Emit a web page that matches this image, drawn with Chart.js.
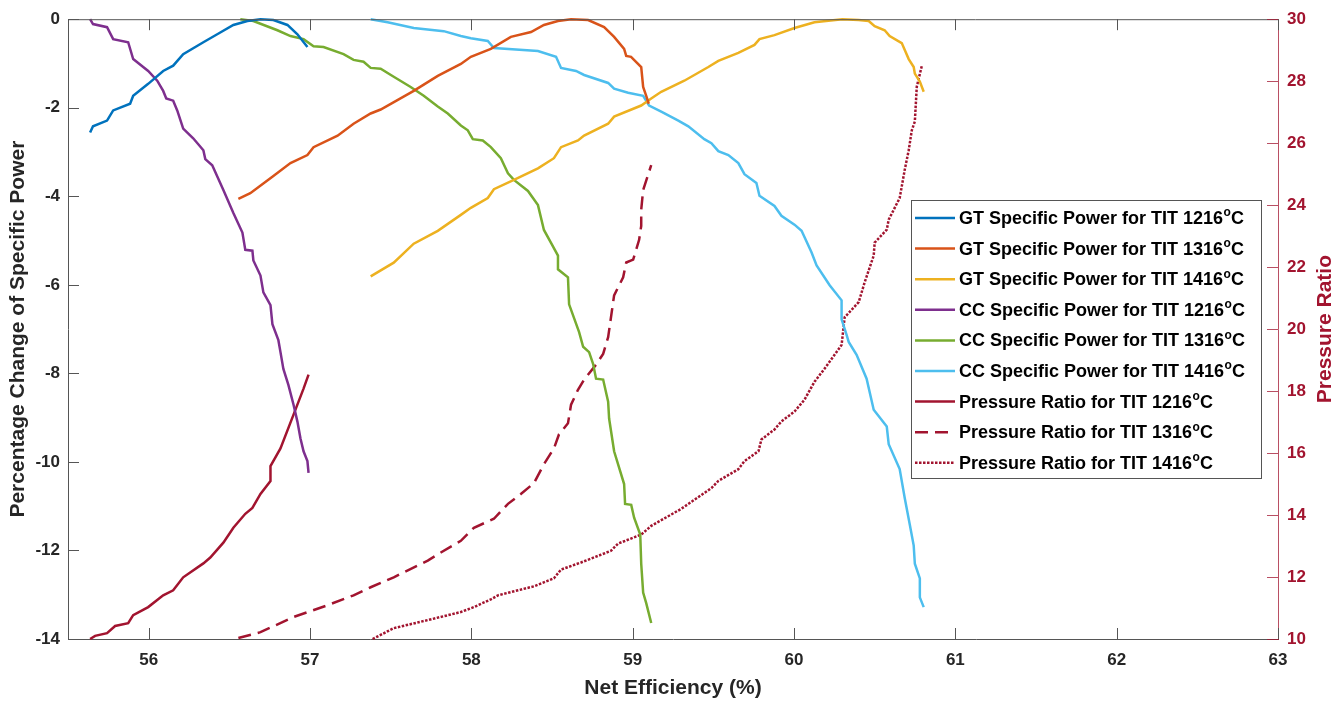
<!DOCTYPE html>
<html>
<head>
<meta charset="utf-8">
<script src="https://cdn.jsdelivr.net/npm/chart.js@4.4.1/dist/chart.umd.min.js"></script>
<style>
html,body{margin:0;padding:0;background:#fff;}
canvas{display:block;}
</style>
</head>
<body>
<canvas id="c" width="1344" height="704"></canvas>
<script>
// ---- Data ----
const xTicks = [56, 57, 58, 59, 60, 61, 62, 63];
const yLeftTicks = [-14, -12, -10, -8, -6, -4, -2, 0];
const yRightTicks = [10, 12, 14, 16, 18, 20, 22, 24, 26, 28, 30];

const seriesLabels = [
  'GT Specific Power for TIT 1216ᵒC',
  'GT Specific Power for TIT 1316ᵒC',
  'GT Specific Power for TIT 1416ᵒC',
  'CC Specific Power for TIT 1216ᵒC',
  'CC Specific Power for TIT 1316ᵒC',
  'CC Specific Power for TIT 1416ᵒC',
  'Pressure Ratio for TIT 1216ᵒC',
  'Pressure Ratio for TIT 1316ᵒC',
  'Pressure Ratio for TIT 1416ᵒC'
];

const gt1216X = [55.637,55.655,55.742,55.78,55.885,55.904,55.997,56.09,56.152,56.214,56.339,56.425,56.525,56.612,56.693,56.773,56.86,56.922,56.984];
const gt1216Y = [-2.56,-2.42,-2.29,-2.06,-1.91,-1.73,-1.46,-1.17,-1.05,-0.79,-0.52,-0.34,-0.13,-0.04,0,-0.02,-0.13,-0.34,-0.63];

const gt1316X = [56.556,56.63,56.773,56.879,56.984,57.022,57.171,57.27,57.376,57.438,57.643,57.792,57.935,57.997,58.121,58.245,58.37,58.45,58.537,58.618,58.724,58.823,58.885,58.947,58.96,58.99,59.053,59.065,59.084,59.10];
const gt1316Y = [-4.06,-3.93,-3.54,-3.25,-3.07,-2.89,-2.63,-2.36,-2.13,-2.04,-1.62,-1.28,-1.01,-0.85,-0.67,-0.40,-0.29,-0.13,-0.04,0,-0.02,-0.18,-0.40,-0.67,-0.83,-0.85,-1.08,-1.53,-1.73,-1.91];

const gt1416X = [57.376,57.519,57.643,57.792,57.935,57.997,58.102,58.14,58.264,58.413,58.512,58.556,58.661,58.699,58.848,58.885,59.053,59.115,59.177,59.32,59.469,59.531,59.655,59.755,59.786,59.879,60.003,60.127,60.3,60.4,60.463,60.5,60.562,60.593,60.668,60.711,60.742,60.749,60.78,60.804];
const gt1416Y = [-5.81,-5.50,-5.07,-4.78,-4.42,-4.26,-4.04,-3.84,-3.63,-3.37,-3.14,-2.89,-2.74,-2.63,-2.36,-2.20,-1.95,-1.79,-1.64,-1.39,-1.08,-0.94,-0.76,-0.58,-0.45,-0.36,-0.20,-0.07,0,-0.02,-0.04,-0.16,-0.25,-0.38,-0.54,-0.90,-1.08,-1.23,-1.41,-1.64];

const cc1216X = [55.637,55.655,55.742,55.78,55.873,55.904,55.997,56.053,56.09,56.109,56.152,56.177,56.214,56.276,56.339,56.351,56.394,56.463,56.525,56.581,56.599,56.643,56.649,56.693,56.711,56.755,56.767,56.804,56.817,56.835,56.866,56.898,56.922,56.941,56.96,56.984,56.991];
const cc1216Y = [0,-0.11,-0.18,-0.45,-0.52,-0.90,-1.17,-1.39,-1.62,-1.79,-1.84,-2.06,-2.47,-2.69,-2.96,-3.16,-3.30,-3.86,-4.38,-4.82,-5.21,-5.23,-5.45,-5.79,-6.17,-6.46,-6.89,-7.25,-7.52,-7.90,-8.26,-8.71,-9.09,-9.47,-9.76,-9.98,-10.25];

const cc1316X = [56.568,56.649,56.798,56.879,56.96,57.022,57.084,57.208,57.27,57.332,57.376,57.438,57.519,57.624,57.705,57.792,57.854,57.935,57.978,58.009,58.071,58.121,58.183,58.227,58.264,58.351,58.413,58.45,58.494,58.537,58.537,58.599,58.606,58.668,58.693,58.73,58.755,58.773,58.817,58.848,58.854,58.885,58.947,58.953,58.991,59.009,59.047,59.053,59.065,59.084,59.115];
const cc1316Y = [0,-0.04,-0.25,-0.38,-0.45,-0.61,-0.63,-0.79,-0.92,-0.96,-1.10,-1.12,-1.30,-1.53,-1.73,-1.97,-2.13,-2.40,-2.51,-2.71,-2.74,-2.89,-3.14,-3.48,-3.63,-3.88,-4.20,-4.76,-5.05,-5.34,-5.65,-5.83,-6.44,-7.07,-7.40,-7.52,-7.79,-8.12,-8.14,-8.64,-9.02,-9.76,-10.50,-10.95,-10.97,-11.26,-11.64,-12.30,-12.95,-13.19,-13.64];

const cc1416X = [57.376,57.481,57.643,57.829,57.935,57.997,58.102,58.14,58.413,58.525,58.556,58.649,58.699,58.848,58.885,58.972,59.065,59.102,59.177,59.283,59.345,59.444,59.488,59.531,59.593,59.655,59.693,59.767,59.786,59.879,59.922,60.003,60.047,60.109,60.14,60.221,60.295,60.295,60.326,60.339,60.388,60.45,60.494,60.575,60.587,60.655,60.686,60.717,60.742,60.749,60.78,60.78,60.804];
const cc1416Y = [0,-0.07,-0.20,-0.27,-0.38,-0.43,-0.49,-0.65,-0.72,-0.85,-1.10,-1.17,-1.26,-1.44,-1.57,-1.66,-1.73,-1.95,-2.09,-2.29,-2.42,-2.71,-2.80,-2.98,-3.07,-3.25,-3.50,-3.70,-3.99,-4.22,-4.44,-4.64,-4.78,-5.27,-5.56,-6.01,-6.35,-6.78,-7.13,-7.29,-7.58,-8.12,-8.82,-9.20,-9.60,-10.16,-10.81,-11.40,-11.89,-12.30,-12.63,-13.06,-13.28];

const pr1216X = [55.637,55.668,55.742,55.792,55.873,55.904,55.997,56.09,56.152,56.214,56.339,56.382,56.463,56.525,56.599,56.643,56.693,56.755,56.755,56.817,56.898,56.96,56.991];
const pr1216Y = [10.0,10.10,10.19,10.42,10.51,10.77,11.03,11.41,11.57,11.99,12.44,12.63,13.11,13.59,14.04,14.23,14.68,15.10,15.58,16.15,17.24,18.08,18.53];

const pr1316X = [56.556,56.693,56.898,57.109,57.27,57.376,57.519,57.73,57.811,57.935,58.016,58.14,58.227,58.307,58.388,58.45,58.512,58.543,58.599,58.618,58.661,58.699,58.773,58.817,58.848,58.885,58.941,58.96,59.003,59.04,59.053,59.053,59.065,59.115];
const pr1316Y = [10.03,10.22,10.71,11.09,11.41,11.67,11.99,12.53,12.79,13.17,13.59,13.88,14.36,14.68,15.03,15.64,16.15,16.60,16.96,17.56,18.04,18.37,18.85,19.20,19.74,21.09,21.67,22.15,22.24,22.88,23.33,23.85,24.49,25.29];

const pr1416X = [57.388,57.519,57.73,57.935,58.016,58.121,58.165,58.388,58.512,58.556,58.68,58.804,58.866,58.91,59.053,59.115,59.301,59.488,59.531,59.655,59.693,59.78,59.798,59.879,59.922,60.003,60.065,60.127,60.189,60.295,60.314,60.401,60.438,60.494,60.5,60.575,60.587,60.655,60.686,60.711,60.73,60.749,60.761,60.792];
const pr1416Y = [10.0,10.35,10.61,10.87,11.03,11.28,11.41,11.70,11.96,12.24,12.47,12.72,12.85,13.08,13.37,13.65,14.20,14.87,15.10,15.48,15.74,16.06,16.44,16.76,17.02,17.34,17.72,18.30,18.72,19.49,20.38,20.87,21.51,22.37,22.79,23.21,23.53,24.23,25.13,25.77,26.41,26.70,27.82,28.49];

// ---- Styles ----
const FONT = "'Liberation Sans', Arial, Helvetica, sans-serif";
const AX = '#262626';
const CRIMSON = '#A2142F';
const colors = ['#0072BD','#D95319','#EDB120','#7E2F8E','#77AC30','#4DBEEE',CRIMSON,CRIMSON,CRIMSON];
const dashes = [[],[],[],[],[],[],[],[13,7],[2.5,1.5]];
const xs = [gt1216X,gt1316X,gt1416X,cc1216X,cc1316X,cc1416X,pr1216X,pr1316X,pr1416X];
const ys = [gt1216Y,gt1316Y,gt1416Y,cc1216Y,cc1316Y,cc1416Y,pr1216Y,pr1316Y,pr1416Y];

function zip(a, b) {
  const n = Math.min(a.length, b.length);
  const out = [];
  for (let i = 0; i < n; i++) out.push({x: a[i], y: b[i]});
  return out;
}

const datasets = seriesLabels.map((lab, i) => ({
  label: lab,
  data: zip(xs[i], ys[i]),
  yAxisID: i < 6 ? 'y' : 'y1',
  borderColor: colors[i],
  backgroundColor: colors[i],
  borderWidth: 2.5,
  borderDash: dashes[i],
  pointRadius: 0,
  pointHoverRadius: 0,
  tension: 0,
  fill: false,
  clip: 3
}));

const TICK_LEN = 11;

const decorPlugin = {
  id: 'decor',
  afterDraw(chart) {
    const {ctx, chartArea: ca, scales} = chart;
    const {left, right, top, bottom} = ca;
    ctx.save();
    ctx.lineWidth = 1;
    // top box line
    ctx.strokeStyle = '#555';
    ctx.beginPath();
    ctx.moveTo(left, top + 0.5); ctx.lineTo(right, top + 0.5);
    ctx.stroke();
    // x ticks (bottom and top, inward)
    ctx.beginPath();
    scales.x.ticks.forEach(t => {
      const px = Math.round(scales.x.getPixelForValue(t.value)) + 0.5;
      ctx.moveTo(px, bottom); ctx.lineTo(px, bottom - TICK_LEN);
      ctx.moveTo(px, top); ctx.lineTo(px, top + TICK_LEN);
    });
    // left y ticks
    scales.y.ticks.forEach(t => {
      const py = Math.round(scales.y.getPixelForValue(t.value)) + 0.5;
      ctx.moveTo(left, py); ctx.lineTo(left + TICK_LEN, py);
    });
    ctx.stroke();
    // right y ticks (crimson)
    ctx.strokeStyle = 'rgba(162,20,47,0.75)';
    ctx.beginPath();
    scales.y1.ticks.forEach(t => {
      const py = Math.round(scales.y1.getPixelForValue(t.value)) + 0.5;
      ctx.moveTo(right, py); ctx.lineTo(right - TICK_LEN, py);
    });
    ctx.stroke();

    // right axis title (reads bottom-to-top)
    ctx.save();
    ctx.translate(1325, (top + bottom) / 2);
    ctx.rotate(-Math.PI / 2);
    ctx.fillStyle = CRIMSON;
    ctx.font = 'bold 21px ' + FONT;
    ctx.textAlign = 'center';
    ctx.textBaseline = 'middle';
    ctx.fillText(chart.options.scales.y1.title.text, 0, 0);
    ctx.restore();

    // legend box
    const bx = 911.5, by = 200.5, bw = 350, bh = 278;
    ctx.fillStyle = '#fff';
    ctx.fillRect(bx, by, bw, bh);
    ctx.strokeStyle = '#555';
    ctx.lineWidth = 1;
    ctx.strokeRect(bx, by, bw, bh);
    const rowY0 = 218, rowH = 30.6;
    chart.data.datasets.forEach((ds, i) => {
      const yy = rowY0 + i * rowH;
      ctx.save();
      ctx.strokeStyle = ds.borderColor;
      ctx.lineWidth = 2.5;
      ctx.setLineDash(ds.borderDash || []);
      ctx.beginPath();
      ctx.moveTo(915, yy); ctx.lineTo(955, yy);
      ctx.stroke();
      ctx.restore();
      // text with superscript o
      const parts = ds.label.split('ᵒ');
      ctx.fillStyle = '#000';
      ctx.textAlign = 'left';
      ctx.textBaseline = 'middle';
      ctx.font = 'bold 18px ' + FONT;
      let tx = 959;
      ctx.fillText(parts[0], tx, yy + 1);
      tx += ctx.measureText(parts[0]).width;
      if (parts.length > 1) {
        ctx.font = 'bold 12px ' + FONT;
        ctx.fillText('o', tx + 0.5, yy - 5);
        tx += ctx.measureText('o').width + 0.5;
        ctx.font = 'bold 18px ' + FONT;
        ctx.fillText(parts[1], tx, yy + 1);
      }
    });
    ctx.restore();
  }
};

new Chart(document.getElementById('c'), {
  type: 'line',
  data: { datasets },
  plugins: [decorPlugin],
  options: {
    responsive: false,
    animation: false,
    devicePixelRatio: 1,
    layout: { padding: { top: 15, left: 0, right: 0, bottom: 0 } },
    plugins: { legend: { display: false }, tooltip: { enabled: false } },
    scales: {
      x: {
        type: 'linear',
        position: 'bottom',
        min: 55.5, max: 63,
        afterBuildTicks: s => { s.ticks = xTicks.map(v => ({value: v})); },
        afterFit: s => { s.height = 65; },
        grid: { display: false, drawTicks: false },
        border: { display: true, color: '#555', width: 1 },
        ticks: { color: AX, padding: 11, font: { family: FONT, size: 17, weight: 'bold' } },
        title: { display: true, text: 'Net Efficiency (%)', color: AX, padding: { top: 0, bottom: 3 },
                 font: { family: FONT, size: 21, weight: 'bold' } }
      },
      y: {
        type: 'linear',
        position: 'left',
        min: -14, max: 0,
        afterBuildTicks: s => { s.ticks = yLeftTicks.map(v => ({value: v})); },
        afterFit: s => { s.width = 68; },
        grid: { display: false, drawTicks: false },
        border: { display: true, color: '#555', width: 1 },
        ticks: { color: AX, padding: 8, font: { family: FONT, size: 17, weight: 'bold' } },
        title: { display: true, text: 'Percentage Change of Specific Power', color: AX, padding: { top: 6, bottom: 0 },
                 font: { family: FONT, size: 21, weight: 'bold' } }
      },
      y1: {
        type: 'linear',
        position: 'right',
        min: 10, max: 30,
        afterBuildTicks: s => { s.ticks = yRightTicks.map(v => ({value: v})); },
        afterFit: s => { s.width = 66; },
        grid: { display: false, drawTicks: false },
        border: { display: true, color: 'rgba(162,20,47,0.75)', width: 1 },
        ticks: { color: CRIMSON, padding: 9, font: { family: FONT, size: 17, weight: 'bold' } },
        title: { display: false, text: 'Pressure Ratio' }
      }
    }
  }
});
</script>
</body>
</html>
